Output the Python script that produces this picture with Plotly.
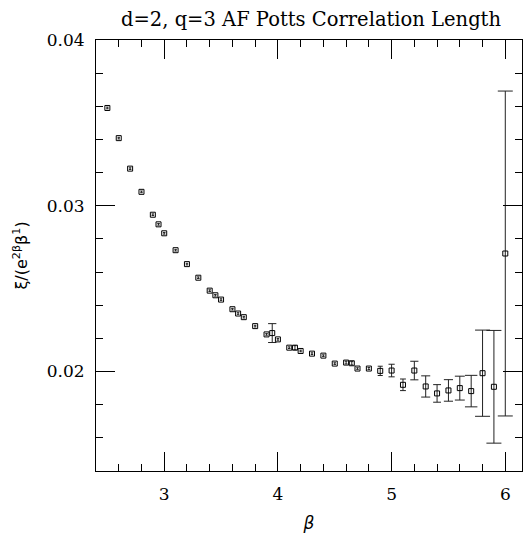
import plotly.graph_objects as go
from plotly.subplots import make_subplots

beta = [2.5, 2.6, 2.7, 2.8, 2.9, 2.95, 3.0, 3.1, 3.2, 3.3, 3.4, 3.45, 3.5, 3.6, 3.65, 3.7,
        3.8, 3.9, 3.95, 4.0, 4.1, 4.15, 4.2, 4.3, 4.4, 4.5, 4.6, 4.65, 4.7, 4.8, 4.9, 5.0,
        5.1, 5.2, 5.3, 5.4, 5.5, 5.6, 5.7, 5.8, 5.9, 6.0]
xi_ratio = [0.0359, 0.03408, 0.03224, 0.03084, 0.02946, 0.02888, 0.02834, 0.02732, 0.02648,
            0.02566, 0.02488, 0.0246, 0.02434, 0.02376, 0.0235, 0.02328, 0.02274, 0.02224,
            0.02232, 0.02194, 0.02144, 0.02144, 0.02124, 0.02108, 0.02096, 0.02048, 0.02054,
            0.0205, 0.02018, 0.02018, 0.02004, 0.02006, 0.0192, 0.02006, 0.0191, 0.01868,
            0.01886, 0.019, 0.01882, 0.0199, 0.01908, 0.02712]
xi_err = [0.00005, 0.00005, 0.00005, 0.00005, 0.00005, 0.00005, 0.00005, 0.00005, 0.00005,
          0.00005, 0.00005, 0.00005, 0.00005, 0.00005, 0.00005, 0.00005, 0.00005, 0.00005,
          0.00057, 0.00005, 0.00005, 0.00012, 0.00005, 0.00005, 0.00005, 0.00005, 0.00008,
          0.0001, 0.00005, 0.00006, 0.00028, 0.00038, 0.00035, 0.00056, 0.00064, 0.00053,
          0.00065, 0.00072, 0.00095, 0.0026, 0.0034, 0.0098]

title_text = "d=2, q=3 AF Potts Correlation Length"
x_range = [2.4, 6.147]
y_range = [0.014, 0.04]
x_major_step = 1
x_minor_step = 0.2
y_major_step = 0.01
y_minor_step = 0.002

fig = make_subplots(rows=1, cols=1)
for b, v, e in zip(beta, xi_ratio, xi_err):
    cap = min(7.5, 1 + 5500 * e)
    fig.add_trace(go.Scatter(
        x=[b], y=[v], mode="markers",
        marker=dict(symbol="square-open", size=5, color="black", line=dict(width=1, color="black")),
        error_y=dict(type="data", array=[e], visible=True, color="#222", thickness=1, width=cap),
        showlegend=False,
    ), row=1, col=1)

common = dict(showline=True, linecolor="black", linewidth=1, mirror="allticks",
              ticks="inside", ticklen=19, tickwidth=1, tickcolor="black",
              showgrid=False, zeroline=False, automargin=False)

fig.update_xaxes(
    range=x_range, tickmode="linear", tick0=3, dtick=x_major_step,
    minor=dict(tickmode="linear", tick0=2.4, dtick=x_minor_step, ticks="inside", ticklen=7),
    tickfont=dict(family="DejaVu Serif", size=17, color="black"),
    ticklabelstandoff=8,
    title=dict(text="<i>β</i>", font=dict(family="DejaVu Sans", size=17, color="black")),
    **common,
)
fig.update_yaxes(
    range=y_range, tickmode="linear", tick0=0.02, dtick=y_major_step, tickformat=".2f",
    minor=dict(tickmode="linear", tick0=0.014, dtick=y_minor_step, ticks="inside", ticklen=7),
    tickfont=dict(family="DejaVu Serif", size=17, color="black"),
    ticklabelstandoff=7,
    title=dict(text="ξ/(e<sup>2β</sup>β<sup>1</sup>)", font=dict(family="DejaVu Sans", size=16, color="black")),
    **common,
)

fig.add_annotation(text=title_text, xref="paper", yref="paper", x=0.505, y=1.0,
                   xanchor="center", yanchor="bottom", yshift=7, showarrow=False,
                   font=dict(family="DejaVu Serif", size=19.5, color="black"))

fig.update_layout(
    width=523, height=533,
    margin=dict(l=96, r=1, t=40, b=62),
    paper_bgcolor="white", plot_bgcolor="white", showlegend=False,
)

fig.write_html("out.html", config={"displayModeBar": False},
               post_script="document.body.style.margin='0';document.body.style.overflow='hidden';")
